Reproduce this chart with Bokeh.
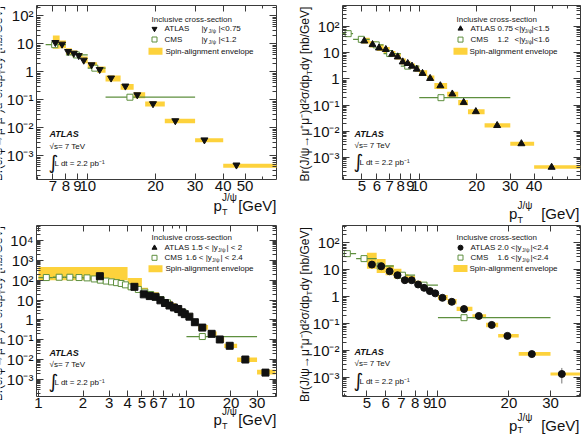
import math
from bokeh.plotting import figure
from bokeh.layouts import column, row
from bokeh.models import FixedTicker, LogAxis, Label, BoxAnnotation, Range1d
from bokeh.embed import file_html
from bokeh.resources import INLINE

FONT = "Liberation Sans"
YELLOW = "#fdd23c"
GREEN = "#5e8f3e"
INK = "#111111"
FRAME = "#3a3a3a"

# ---------------- Panel 1 : ATLAS |y|<0.75, CMS |y|<1.2 ----------------
p1_atlas_pt = [7.18, 7.69, 8.18, 8.67, 9.12, 9.60, 10.4, 11.3, 12.7, 14.7, 16.6, 19.5, 24.5, 33.0, 45.8]
p1_atlas_xs = [11.1, 9.7, 5.3, 4.6, 3.8, 2.6, 1.78, 1.21, 0.60, 0.31, 0.151, 0.0726, 0.0179, 0.0037, 0.00047]
p1_bin_lo = [7.0, 7.5, 8.0, 8.5, 9.0, 9.5, 10, 11, 12, 14, 16, 18, 22, 30, 40]
p1_bin_hi = [7.5, 8.0, 8.5, 9.0, 9.5, 10, 11, 12, 14, 16, 18, 22, 30, 40, 70]
p1_env_lo = [6.6, 7.0, 4.05, 3.52, 3.16, 2.03, 1.35, 0.92, 0.45, 0.227, 0.114, 0.0577, 0.0146, 0.00306, 0.000372]
p1_env_hi = [19.8, 13.1, 7.0, 5.77, 4.6, 3.5, 2.2, 1.55, 0.74, 0.37, 0.187, 0.0869, 0.0209, 0.00425, 0.000518]
p1_cms_pt = [7.13, 8.9, 10.75, 15.4]
p1_cms_lo = [6.5, 8, 10, 12]
p1_cms_hi = [8, 10, 12, 30]
p1_cms_xs = [9.3, 4.0, 1.35, 0.124]

# ---------------- Panel 2 : ATLAS 0.75<|y|<1.5, CMS 1.2<|y|<1.6 ----------------
p2_atlas_pt = [5.15, 5.69, 6.15, 6.68, 7.21, 7.71, 8.19, 8.70, 9.16, 9.70, 10.4, 11.4, 12.9, 14.9, 17.1, 19.8, 25.6, 34.3, 49.4]
p2_atlas_xs = [28.1, 20.5, 15.2, 13.3, 8.77, 6.92, 4.47, 3.88, 3.07, 2.36, 1.62, 1.04, 0.547, 0.264, 0.126, 0.0561, 0.0165, 0.00332, 0.000417]
p2_bin_lo = [5, 5.5, 6, 6.5, 7, 7.5, 8, 8.5, 9, 9.5, 10, 11, 12, 14, 16, 18, 22, 30, 40]
p2_bin_hi = [5.5, 6, 6.5, 7, 7.5, 8, 8.5, 9, 9.5, 10, 11, 12, 14, 16, 18, 22, 30, 40, 70]
p2_env_lo = [22.4, 15.8, 11.7, 9.33, 6.92, 5.51, 3.56, 3.07, 2.51, 1.86, 1.28, 0.824, 0.409, 0.209, 0.0982, 0.0447, 0.0138, 0.00279, 0.000362]
p2_env_hi = [37.8, 27.4, 20.5, 16.6, 11.7, 9.33, 6.01, 4.88, 3.88, 3.15, 2.16, 1.36, 0.692, 0.324, 0.156, 0.0692, 0.0203, 0.00396, 0.000497]
p2_cms_pt = [4.24, 4.97, 5.95, 7.0, 8.7, 13.0]
p2_cms_lo = [3.5, 4.5, 5.5, 6.5, 8, 10]
p2_cms_hi = [4.5, 5.5, 6.5, 8, 10, 30]
p2_cms_xs = [53.7, 32.6, 20.0, 9.3, 3.07, 0.191]

# ---------------- Panel 3 : ATLAS 1.5<|y|<2, CMS 1.6<|y|<2.4 ----------------
p3_atlas_pt = [2.6, 4.45, 5.15, 5.65, 6.18, 6.67, 7.16, 7.68, 8.23, 8.80, 9.3, 9.75, 10.47, 11.4, 12.8, 14.8, 16.8, 19.6, 25.0, 34.2]
p3_atlas_xs = [158, 46.2, 19.3, 15.8, 14.6, 9.66, 7.08, 5.31, 4.22, 3.55, 2.43, 1.95, 1.46, 0.767, 0.412, 0.2, 0.104, 0.05, 0.0102, 0.00224]
p3_bin_lo = [1, 4, 5, 5.5, 6, 6.5, 7, 7.5, 8, 8.5, 9, 9.5, 10, 11, 12, 14, 16, 18, 22, 30]
p3_bin_hi = [4, 5, 5.5, 6, 6.5, 7, 7.5, 8, 8.5, 9, 9.5, 10, 11, 12, 14, 16, 18, 22, 30, 40]
p3_env_lo = [100, 34, 14.6, 11.2, 10, 6.8, 5.2, 3.85, 3.16, 2.43, 1.78, 1.36, 1.0, 0.56, 0.316, 0.146, 0.0767, 0.0385, 0.0077, 0.00178]
p3_env_hi = [462, 128, 41.2, 28.2, 24.3, 15.8, 11.2, 8.9, 6.8, 5.2, 3.85, 2.92, 2.16, 1.12, 0.56, 0.26, 0.13, 0.063, 0.013, 0.00316]
p3_cms_pt = [1.13, 1.38, 1.63, 1.88, 2.13, 2.38, 2.62, 2.87, 3.12, 3.37, 3.62, 3.87, 4.23, 4.73, 5.23, 5.73, 6.23, 6.73, 7.45, 8.8, 12.8]
p3_cms_lo = [1.0, 1.25, 1.5, 1.75, 2.0, 2.25, 2.5, 2.75, 3.0, 3.25, 3.5, 3.75, 4.0, 4.5, 5.0, 5.5, 6.0, 6.5, 7.0, 8.0, 10.0]
p3_cms_hi = [1.25, 1.5, 1.75, 2.0, 2.25, 2.5, 2.75, 3.0, 3.25, 3.5, 3.75, 4.0, 4.5, 5.0, 5.5, 6.0, 6.5, 7.0, 8.0, 10.0, 30.0]
p3_cms_xs = [135, 140, 140, 135, 130, 115, 100, 90, 82, 75, 68, 58, 46, 34, 25, 19, 14, 10.5, 7.2, 3.3, 0.146]

# ---------------- Panel 4 : ATLAS 2.0<|y|<2.4, CMS 1.6<|y|<2.4 ----------------
p4_atlas_pt = [5.25, 5.75, 6.24, 6.74, 7.24, 7.74, 8.24, 8.74, 9.24, 9.74, 10.45, 11.45, 12.9, 14.9, 16.9, 19.7, 25.0, 33.5]
p4_atlas_xs = [15.6, 13.5, 8.8, 6.26, 4.08, 4.08, 2.83, 2.12, 1.6, 1.32, 0.9, 0.641, 0.344, 0.19, 0.088, 0.0344, 0.00723, 0.00131]
p4_bin_lo = [5, 5.5, 6, 6.5, 7, 7.5, 8, 8.5, 9, 9.5, 10, 11, 12, 14, 16, 18, 22, 30]
p4_bin_hi = [5.5, 6, 6.5, 7, 7.5, 8, 8.5, 9, 9.5, 10, 11, 12, 14, 16, 18, 22, 30, 40]
p4_env_lo = [11, 7.5, 6.2, 4.7, 3.5, 3.3, 2.4, 1.8, 1.35, 1.1, 0.75, 0.52, 0.29, 0.156, 0.072, 0.0298, 0.0063, 0.00115]
p4_env_hi = [43, 25, 14.7, 11, 6.8, 6.0, 3.9, 2.9, 2.1, 1.7, 1.15, 0.82, 0.42, 0.219, 0.107, 0.0408, 0.00857, 0.0015]
p4_err_pt = [33.5]
p4_err_lo = [0.00058]
p4_err_hi = [0.0022]
p4_cms_pt = [4.13, 4.86, 5.69, 7.07, 8.73, 12.9]
p4_cms_lo = [3.5, 4.5, 5.5, 6.5, 8, 10]
p4_cms_hi = [4.5, 5.5, 6.5, 8, 10, 30]
p4_cms_xs = [39.8, 26, 13.8, 6.26, 2.67, 0.164]

# ---------------- ticks and titles ----------------
y_tick_vals = [1e-3, 1e-2, 1e-1, 1, 10, 100, 1e3, 1e4]
y_tick_text = ["10⁻³", "10⁻²", "10⁻¹", "1", "10", "10²", "10³", "10⁴"]
p1_x_ticks = [7, 8, 9, 10, 20, 30, 40, 50]
p2_x_ticks = [5, 6, 7, 8, 9, 10, 20, 30, 40]
p3_x_ticks = [1, 2, 3, 4, 5, 6, 7, 10, 20, 30]
p4_x_ticks = [5, 6, 7, 8, 9, 10, 20, 30]
p1_x_minor = [6, 60, 70]
p2_x_minor = [4, 50, 60, 70]
p3_x_minor = [8, 9, 40]
p4_x_minor = [4, 40]
legend_title = "Inclusive cross-section"
ytitle_a = "Br(J/ψ→μ⁺μ⁻)d²σ/dp"
ytitle_b = "dy [nb/GeV]"
xtitle_p = "p"
xtitle_unit = "[GeV]"
sub_t = "T"
sup_jpsi = "J/ψ"

PANELS = [
    dict(w=292, h=222, y0=0, m0=0, frame=(36, 276, 5, 179), xr=(5.92, 69.0), yr=(1.43e-4, 233),
         pt=p1_atlas_pt, xs=p1_atlas_xs, blo=p1_bin_lo, bhi=p1_bin_hi, elo=p1_env_lo, ehi=p1_env_hi,
         cpt=p1_cms_pt, clo=p1_cms_lo, chi=p1_cms_hi, cxs=p1_cms_xs, marker="inverted_triangle", lmarker="inverted_triangle",
         xt=p1_x_ticks, xm=p1_x_minor,
         leg=dict(x0=151, ty=19, rows=(28.3, 39, 50.7), mx=154, tx=164,
                  a=[(201, "|y"), (208, "J/ψ", "sub"), (218, "|<0.75")],
                  c=[(201, "|y"), (208, "J/ψ", "sub"), (218, "|<1.2")], rx=(148, 162), sx=165),
         ann=(49, 133, 146, 161)),
    dict(w=292, h=222, y0=0, m0=0, frame=(50, 288, 5, 180), xr=(3.96, 70.0), yr=(1.42e-4, 640),
         pt=p2_atlas_pt, xs=p2_atlas_xs, blo=p2_bin_lo, bhi=p2_bin_hi, elo=p2_env_lo, ehi=p2_env_hi,
         cpt=p2_cms_pt, clo=p2_cms_lo, chi=p2_cms_hi, cxs=p2_cms_xs, marker="triangle", lmarker="triangle",
         xt=p2_x_ticks, xm=p2_x_minor,
         leg=dict(x0=164, ty=19, rows=(28.3, 39.3, 51), mx=168, tx=178,
                  a=[(205, "0.75"), (222, "<|y"), (232, "J/ψ", "sub"), (239, "|<1.5")],
                  c=[(205, "1.2"), (222, "<|y"), (232, "J/ψ", "sub"), (239, "|<1.6")], rx=(161, 175), sx=177),
         ann=(62, 134, 146, 161)),
    dict(w=292, h=213, y0=222, m0=215, frame=(36, 276, 10, 181), xr=(0.97, 40.6), yr=(1.41e-4, 5.6e4),
         pt=p3_atlas_pt, xs=p3_atlas_xs, blo=p3_bin_lo, bhi=p3_bin_hi, elo=p3_env_lo, ehi=p3_env_hi,
         cpt=p3_cms_pt, clo=p3_cms_lo, chi=p3_cms_hi, cxs=p3_cms_xs, marker="square", lmarker="triangle",
         xt=p3_x_ticks, xm=p3_x_minor,
         leg=dict(x0=151, ty=22.3, rows=(32.3, 42.3, 53.3), mx=154, tx=164,
                  a=[(191, "1.5 < |y"), (217.5, "J/ψ", "sub"), (226, "| < 2")],
                  c=[(185, "1.6 < |y"), (211.5, "J/ψ", "sub"), (220, "| < 2.4")], rx=(148, 162), sx=165),
         ann=(49, 137, 149, 165)),
    dict(w=292, h=213, y0=222, m0=215, frame=(50, 288, 10, 182), xr=(3.94, 40.2), yr=(1.9e-4, 445),
         pt=p4_atlas_pt, xs=p4_atlas_xs, blo=p4_bin_lo, bhi=p4_bin_hi, elo=p4_env_lo, ehi=p4_env_hi,
         cpt=p4_cms_pt, clo=p4_cms_lo, chi=p4_cms_hi, cxs=p4_cms_xs, marker="circle", lmarker="circle",
         xt=p4_x_ticks, xm=p4_x_minor,
         leg=dict(x0=164, ty=22.3, rows=(32.3, 42.3, 53.3), mx=168, tx=178,
                  a=[(205, "2.0 <|y"), (229.5, "J/ψ", "sub"), (238, "|<2.4")],
                  c=[(205, "1.6 <|y"), (229.5, "J/ψ", "sub"), (238, "|<2.4")], rx=(161, 175), sx=177),
         ann=(62, 137, 149, 165)),
]

# axis-title placement on the page (pixels): x title (p left, baseline, [GeV] right, subscript drop), y title (centre x, T position)
XTITLES = [(213, 205, 276, 6.5), (508.5, 213, 579, 6.5), (213, 419, 276, 6.5), (508.5, 425, 579, 4.0)]
YTITLES = [(-3, 71.5), (304, 72), (-3, 291.5), (304, 292.5)]


def to_data(cfg, px, py):
    fl, fr, ft, fb = cfg["frame"]
    lx0, lx1 = math.log10(cfg["xr"][0]), math.log10(cfg["xr"][1])
    ly0, ly1 = math.log10(cfg["yr"][0]), math.log10(cfg["yr"][1])
    x = 10 ** (lx0 + (px - fl) / (fr - fl) * (lx1 - lx0))
    y = 10 ** (ly1 - (py - ft) / (fb - ft) * (ly1 - ly0))
    return x, y


def label(p, x, y, text, size=8, align="left", baseline="middle", style="normal",
          angle=0.0, color=INK, font=FONT):
    p.add_layout(Label(x=x, y=y, text=text, text_font=font, text_font_size=f"{size}px",
                       text_font_style=style, text_align=align, text_baseline=baseline,
                       angle=angle, text_color=color))


def txt(p, cfg, px, py, text, size=8, **kw):
    x, y = to_data(cfg, px, py)
    label(p, x, y, text, size, **kw)


def style_axis(ax, ticks, minor, major_len, minor_len, overrides=None, standoff=3):
    ax.ticker = FixedTicker(ticks=ticks, minor_ticks=minor)
    ax.axis_line_color = None
    ax.major_tick_in = major_len
    ax.major_tick_out = 0
    ax.minor_tick_in = minor_len
    ax.minor_tick_out = 0
    ax.major_tick_line_color = FRAME
    ax.minor_tick_line_color = FRAME
    if overrides is not None:
        ax.major_label_overrides = overrides
        ax.major_label_text_font = FONT
        ax.major_label_text_font_size = "15px"
        ax.major_label_text_color = INK
        ax.major_label_standoff = standoff
    else:
        ax.major_label_overrides = {v: "." for v in ticks}
        ax.major_label_text_font_size = "1px"
        ax.major_label_text_alpha = 0.0
        ax.major_label_standoff = 0


def make_panel(cfg):
    fl, fr, ft, fb = cfg["frame"]
    shift = cfg["m0"] - cfg["y0"]
    p = figure(width=cfg["w"], height=cfg["h"], x_axis_type="log", y_axis_type="log",
               x_range=cfg["xr"], y_range=cfg["yr"], output_backend="svg", toolbar_location=None,
               min_border_left=fl, min_border_right=cfg["w"] - fr,
               min_border_top=ft + shift, min_border_bottom=cfg["h"] - (fb + shift))
    p.xgrid.visible = False
    p.ygrid.visible = False
    p.outline_line_color = FRAME
    p.outline_line_width = 1
    p.background_fill_color = "white"
    p.border_fill_color = "white"

    y0, y1 = cfg["yr"]
    yt = [v for v in y_tick_vals if y0 <= v <= y1]
    ylab = {v: t for v, t in zip(y_tick_vals, y_tick_text) if v in yt}
    ym = [k * 10.0 ** e for e in range(-4, 5) for k in range(2, 10)]
    ym = [v for v in ym if y0 <= v <= y1]
    xlab = {v: str(v) for v in cfg["xt"]}

    style_axis(p.xaxis[0], cfg["xt"], cfg["xm"], 6, 3, xlab, standoff=1)
    style_axis(p.yaxis[0], yt, ym, 7, 4, ylab, standoff=3)
    ra = LogAxis()
    style_axis(ra, yt, ym, 7, 4)
    p.add_layout(ra, "right")
    ta = LogAxis()
    style_axis(ta, cfg["xt"], cfg["xm"], 6, 3)
    p.add_layout(ta, "above")

    # data
    p.quad(left=cfg["blo"], right=cfg["bhi"], bottom=cfg["elo"], top=cfg["ehi"],
           fill_color=YELLOW, line_color=None)
    p.segment(x0=cfg["clo"], x1=cfg["chi"], y0=cfg["cxs"], y1=cfg["cxs"], line_color=GREEN, line_width=1.3)
    p.scatter(cfg["cpt"], cfg["cxs"], marker="square", size=6, fill_color="white",
              line_color=GREEN, line_width=1)
    if "ept" in cfg:
        p.segment(x0=cfg["ept"], x1=cfg["ept"], y0=cfg["elo2"], y1=cfg["ehi2"], line_color="#777777", line_width=1)
    p.scatter(cfg["pt"], cfg["xs"], marker=cfg["marker"], size=7, fill_color=INK, line_color=INK)

    # legend
    lg = cfg["leg"]
    txt(p, cfg, lg["x0"], lg["ty"], legend_title, 8, color="#222222")
    r1, r2, r3 = lg["rows"]
    mx, my = to_data(cfg, lg["mx"], r1)
    p.scatter([mx], [my], marker=cfg["lmarker"], size=5, fill_color=INK, line_color=INK)
    mx, my = to_data(cfg, lg["mx"], r2)
    p.scatter([mx], [my], marker="square", size=5, fill_color="white", line_color=GREEN, line_width=1)
    txt(p, cfg, lg["tx"], r1, "ATLAS", 8)
    txt(p, cfg, lg["tx"], r2, "CMS", 8)
    for row_y, parts in ((r1, lg["a"]), (r2, lg["c"])):
        for part in parts:
            if len(part) == 3:
                txt(p, cfg, part[0], row_y + 2.5, part[1], 5)
            else:
                txt(p, cfg, part[0], row_y, part[1], 8)
    bx0, by0 = to_data(cfg, lg["rx"][0], r3 + 3.5)
    bx1, by1 = to_data(cfg, lg["rx"][1], r3 - 3.5)
    p.add_layout(BoxAnnotation(left=bx0, right=bx1, bottom=by0, top=by1, fill_color=YELLOW,
                               fill_alpha=1.0, line_color=None))
    txt(p, cfg, lg["sx"], r3, "Spin-alignment envelope", 8)

    # ATLAS annotation
    ax_, ay1, ay2, ay3 = cfg["ann"]
    txt(p, cfg, ax_, ay1, "ATLAS", 9, style="bold italic")
    txt(p, cfg, ax_, ay2, "√s= 7 TeV", 8)
    txt(p, cfg, ax_ - 1, ay3, "∫", 19, font="DejaVu Sans")
    txt(p, cfg, ax_ + 5, ay3 + 1.5, "L dt = 2.2 pb⁻¹", 8)
    return p


PANELS[3]["ept"] = p4_err_pt
PANELS[3]["elo2"] = p4_err_lo
PANELS[3]["ehi2"] = p4_err_hi

figs = [make_panel(c) for c in PANELS]

# transparent overlay carrying the axis titles (page pixel coordinates)
ov = figure(width=584, height=435, x_range=Range1d(0, 584), y_range=Range1d(435, 0),
            output_backend="svg", toolbar_location=None, min_border=0,
            x_axis_location=None, y_axis_location=None)
ov.xgrid.visible = False
ov.ygrid.visible = False
ov.outline_line_color = None
ov.background_fill_color = None
ov.border_fill_color = None
ov.margin = (-435, 0, 0, 0)
for (pl, base, rt, drop) in XTITLES:
    label(ov, pl, base, xtitle_p, 15, baseline="alphabetic")
    label(ov, pl + 8.5, base + drop, sub_t, 9, baseline="alphabetic")
    label(ov, pl + 8.5, base - 8, sup_jpsi, 10, baseline="alphabetic")
    label(ov, rt, base, xtitle_unit, 15, align="right", baseline="alphabetic")
for (lx, yT) in YTITLES:
    label(ov, lx, yT + 2.5, ytitle_a, 12, align="right", angle=math.pi / 2)
    label(ov, lx + 5, yT, sub_t, 8, align="center", angle=math.pi / 2)
    label(ov, lx, yT - 2.5, ytitle_b, 12, align="left", angle=math.pi / 2)

layout = column(row(figs[0], figs[1]), row(figs[2], figs[3]), ov)
open("out.html", "w").write(file_html(layout, INLINE))
